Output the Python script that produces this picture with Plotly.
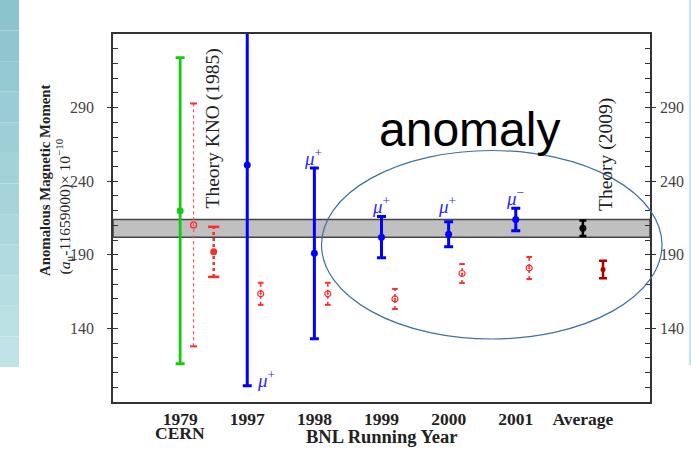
import plotly.graph_objects as go

# ---------------- data ----------------
tick_labels = ["1979", "1997", "1998", "1999", "2000", "2001", "Average"]
tick_sub = ["CERN", "", "", "", "", "", ""]
tick_pos = [0, 1, 2, 3, 4, 5, 6]

cern_x = [0]
cern_val = [220]
cern_err = [104]

bnl_x = [1, 2, 3, 4, 5]
bnl_val = [251, 191, 202, 204, 214]
bnl_err = [150, 58, 14, 8.5, 7.7]
bnl_sign = ["+", "+", "+", "+", "−"]

avg_x = [6]
avg_val = [208]
avg_err = [5.3]

# theory points drawn beside each experimental point
theo_x = [1, 2, 3, 4, 5]
theo_val = [163.5, 163.5, 160, 177.3, 181]
theo_err = [7.5, 7.5, 6.8, 6.4, 7.5]

kno_open_val = [210.3]
kno_open_err = [82.5]
kno_val = [192]
kno_err = [17]

th09_val = [180]
th09_err = [6]

band_center = 208
band_half = 6

# ---------------- geometry helpers ----------------
W, H = 691, 451
L, R, T, B = 113, 650, 34, 402


def px(x):
    return (x - L) / (R - L)


def py(y):
    return (B - y) / (B - T)


def seg(xs, vals, errs):
    X, Y = [], []
    for x, v, e in zip(xs, vals, errs):
        X += [x, x, None]
        Y += [v - e, v + e, None]
    return X, Y


def caps(xs, vals, errs):
    X, Y = [], []
    for x, v, e in zip(xs, vals, errs):
        X += [x, x]
        Y += [v - e, v + e]
    return X, Y


fig = go.Figure()

RED = "#ff2a2a"

# thin dotted KNO (open circle)
kx = [0.2]
X, Y = seg(kx, kno_open_val, kno_open_err)
fig.add_trace(go.Scatter(x=X, y=Y, mode="lines", line=dict(color="#ff4d4d", width=1.2, dash="dot"), hoverinfo="skip"))
X, Y = caps(kx, kno_open_val, kno_open_err)
fig.add_trace(go.Scatter(x=X, y=Y, mode="markers", marker=dict(symbol="line-ew", size=5, color=RED, line=dict(color=RED, width=2))))
fig.add_trace(go.Scatter(x=kx, y=kno_open_val, mode="markers",
                         marker=dict(symbol="circle-open", size=6, color=RED, line=dict(color=RED, width=1.3))))

# heavier dotted KNO (filled)
kx2 = [0.5]
X, Y = seg(kx2, kno_val, kno_err)
fig.add_trace(go.Scatter(x=X, y=Y, mode="lines", line=dict(color=RED, width=2.5, dash="dot")))
X, Y = caps(kx2, kno_val, kno_err)
fig.add_trace(go.Scatter(x=X, y=Y, mode="markers", marker=dict(symbol="line-ew", size=8, color=RED, line=dict(color=RED, width=2.5))))
fig.add_trace(go.Scatter(x=kx2, y=kno_val, mode="markers", marker=dict(symbol="circle", size=7, color=RED)))

# small theory points beside BNL years
tx = [x + 0.2 for x in theo_x]
X, Y = seg(tx, theo_val, theo_err)
fig.add_trace(go.Scatter(x=X, y=Y, mode="lines", line=dict(color=RED, width=1.5, dash="dot")))
X, Y = caps(tx, theo_val, theo_err)
fig.add_trace(go.Scatter(x=X, y=Y, mode="markers", marker=dict(symbol="line-ew", size=4, color=RED, line=dict(color=RED, width=2))))
fig.add_trace(go.Scatter(x=tx, y=theo_val, mode="markers",
                         marker=dict(symbol="circle-open-dot", size=6, color=RED, line=dict(color=RED, width=1.2))))

# theory 2009
fig.add_trace(go.Scatter(x=[6.3], y=th09_val, mode="markers",
                         marker=dict(symbol="circle", size=5, color="#aa0000"),
                         error_y=dict(type="data", array=th09_err, color="#aa0000", thickness=2.5, width=4)))

# CERN
fig.add_trace(go.Scatter(x=cern_x, y=cern_val, mode="markers",
                         marker=dict(symbol="circle", size=7, color="#11cc11"),
                         error_y=dict(type="data", array=cern_err, color="#11cc11", thickness=2.8, width=4.5)))
# BNL
fig.add_trace(go.Scatter(x=bnl_x, y=bnl_val, mode="markers",
                         marker=dict(symbol="circle", size=7, color="#0000ff"),
                         error_y=dict(type="data", array=bnl_err, color="#0000ff", thickness=3, width=4.5)))
# Average
fig.add_trace(go.Scatter(x=avg_x, y=avg_val, mode="markers",
                         marker=dict(symbol="circle", size=7, color="#000000"),
                         error_y=dict(type="data", array=avg_err, color="#000000", thickness=2.5, width=3.5)))

SERIF = "Liberation Serif"

shapes = []
# left textured strip (approximated with a vertical gradient)
n = 12
for i in range(n):
    t = i / (n - 1)
    r = int(0x8c + (0xbf - 0x8c) * t)
    g = int(0xc4 + (0xe3 - 0xc4) * t)
    b = int(0xce + (0xe7 - 0xce) * t)
    y0 = 367 * i / n
    y1 = 367 * (i + 1) / n
    shapes.append(dict(type="rect", xref="paper", yref="paper", x0=px(0), x1=px(19),
                       y0=py(y1), y1=py(y0), fillcolor=f"rgb({r},{g},{b})", line=dict(width=0), layer="below"))
shapes.append(dict(type="line", xref="paper", yref="paper", x0=px(690), x1=px(690), y0=py(365), y1=py(0),
                   line=dict(color="#c3e5ea", width=2)))
# average band
shapes.append(dict(type="rect", xref="paper", yref="y", x0=0, x1=1,
                   y0=band_center - band_half, y1=band_center + band_half,
                   fillcolor="#c0c0c0", line=dict(color="#444444", width=1.5), layer="below"))
# ellipse
shapes.append(dict(type="circle", xref="paper", yref="paper", x0=px(321.5), x1=px(662),
                   y0=py(339), y1=py(150.5), line=dict(color="#3d6fa8", width=1.2)))


def note(text, x, y, size, family=SERIF, color="#222222", angle=0, xa="center", ya="middle"):
    return dict(text=text, textangle=angle, x=px(x), y=py(y), xref="paper", yref="paper",
                xanchor=xa, yanchor=ya, showarrow=False, font=dict(family=family, size=size, color=color))


ann = []
ann.append(note("Theory KNO (1985)", 212.5, 129, 19.5, angle=-90))
ann.append(note("Theory (2009)", 605.5, 154.5, 19.5, angle=-90))
ann.append(note("anomaly", 469, 129, 48, family="Liberation Sans", color="#000000"))
mu_pos = [(266, 379), (313, 157), (381, 205), (447, 205), (515, 197)]
for (mx, my), s in zip(mu_pos, bnl_sign):
    ann.append(note(f"<i>μ</i><sup>{s}</sup>", mx, my, 19, color="#2a2aff"))
ann.append(note("<b>Anomalous Magnetic Moment</b>", 45, 278, 14.8, angle=-90, ya="bottom"))
ann.append(note("(<i>a</i><sub>μ</sub>-11659000)× 10<sup>−10</sup>", 64.5, 277, 15.5, angle=-90, ya="bottom"))
ann.append(note("<b>BNL Running Year</b>", 381, 437, 18.5))
# second line of the CERN tick label
for p, s in zip(tick_pos, tick_sub):
    if s:
        ann.append(dict(text=f"<b>{s}</b>", x=p, y=py(433), xref="x", yref="paper", xanchor="center",
                        yanchor="middle", showarrow=False, font=dict(family=SERIF, size=17.5, color="#222222")))

major = [140, 190, 240, 290]
fig.update_layout(
    width=W, height=H,
    margin=dict(l=L, r=W - R, t=T, b=H - B),
    paper_bgcolor="white", plot_bgcolor="white",
    showlegend=False,
    shapes=shapes, annotations=ann,
    xaxis=dict(range=[-1, 7], tickvals=tick_pos, ticktext=[f"<b>{t}</b>" for t in tick_labels],
               showgrid=False, zeroline=False, showline=True, linecolor="#333333", linewidth=1.5, mirror=True,
               ticks="", tickfont=dict(family=SERIF, size=17.5, color="#222222"), ticklabelstandoff=0,
               automargin=False),
    yaxis=dict(range=[90, 340], tickvals=major, showgrid=False, zeroline=False, showline=True,
               linecolor="#333333", linewidth=1.5, mirror="allticks",
               ticks="outside", ticklen=4, tickwidth=1.2, tickcolor="#333333",
               minor=dict(ticks="inside", tickvals=list(range(100, 340, 10)), ticklen=5, tickwidth=1.2, tickcolor="#333333"),
               tickfont=dict(family=SERIF, size=16, color="#444444"), ticklabelstandoff=10, automargin=False),
    yaxis2=dict(range=[90, 340], overlaying="y", side="right", tickvals=major, showgrid=False, zeroline=False,
                showline=False, ticks="", tickfont=dict(family=SERIF, size=16, color="#444444"), ticklabelstandoff=9,
                automargin=False),
    yaxis3=dict(range=[90, 340], overlaying="y", side="left", tickvals=major, showgrid=False, zeroline=False,
                showline=False, ticks="inside", ticklen=4, tickwidth=1.2, tickcolor="#333333", mirror="allticks",
                showticklabels=False, automargin=False),
)
# invisible traces to activate the overlay axes
fig.add_trace(go.Scatter(x=[None], y=[None], yaxis="y2", showlegend=False))
fig.add_trace(go.Scatter(x=[None], y=[None], yaxis="y3", showlegend=False))

fig.write_html("out.html")
